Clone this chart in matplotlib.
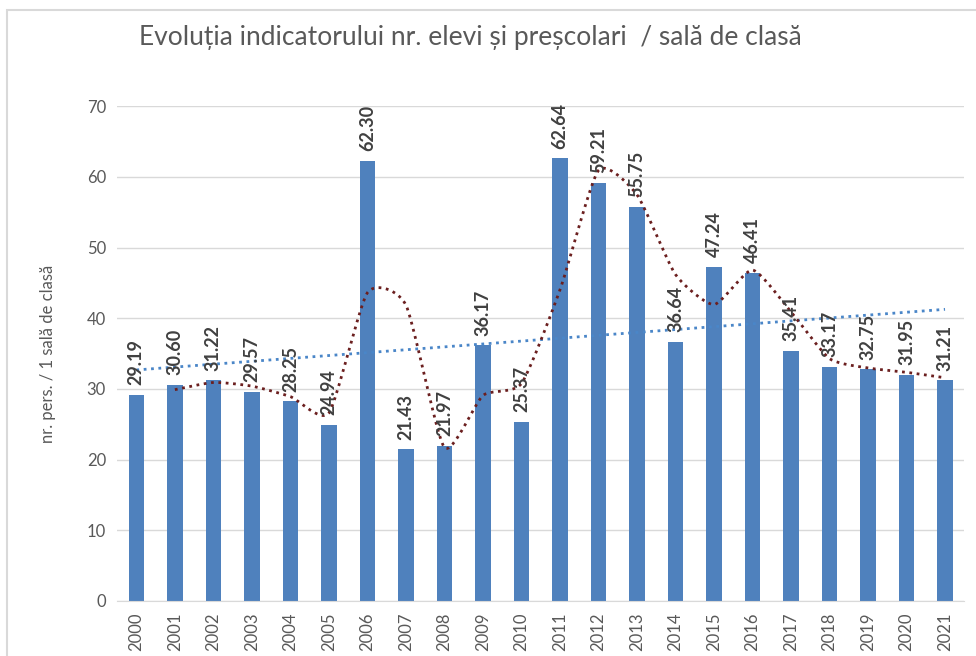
import numpy as np
import matplotlib.pyplot as plt
from matplotlib.patches import Rectangle

# date
ani = [str(a) for a in range(2000, 2022)]
valori = [29.19, 30.60, 31.22, 29.57, 28.25, 24.94, 62.30, 21.43, 21.97, 36.17, 25.37,
          62.64, 59.21, 55.75, 36.64, 47.24, 46.41, 35.41, 33.17, 32.75, 31.95, 31.21]

plt.rcParams['font.family'] = ['Lato', 'DejaVu Sans']

x = np.arange(len(ani))
y = np.array(valori)

fig = plt.figure(figsize=(9.76, 6.56), dpi=100)
ax = fig.add_axes([0.120, 0.084, 0.868, 0.754])

ax.bar(x, y, width=0.4, color='#4f81bd', zorder=2)

# etichete valori
for xi, v in zip(x, y):
    ax.annotate(f"{v:.2f}", (xi, v), xytext=(0, 7), textcoords='offset points',
                rotation=90, ha='center', va='bottom', fontsize=13,
                fontweight='bold', color='#404040', zorder=4)

# linie de tendinta liniara
a, b = np.polyfit(x, y, 1)
ax.plot(x, a * x + b, ls=':', lw=2, color='#4a86c8', zorder=3)

# medie mobila 2 perioade (netezita)
mm = (y[1:] + y[:-1]) / 2
xm = x[1:]
px, py = [], []
P = np.column_stack([xm, mm])
P = np.vstack([P[0], P, P[-1]])
k = 0.3  # tensiune
for i in range(1, len(P) - 2):
    p0, p1, p2, p3 = P[i - 1], P[i], P[i + 1], P[i + 2]
    m1 = k * (p2 - p0)
    m2 = k * (p3 - p1)
    for t in np.linspace(0, 1, 20, endpoint=False):
        h00 = 2 * t**3 - 3 * t**2 + 1
        h10 = t**3 - 2 * t**2 + t
        h01 = -2 * t**3 + 3 * t**2
        h11 = t**3 - t**2
        c = h00 * p1 + h10 * m1 + h01 * p2 + h11 * m2
        px.append(c[0]); py.append(c[1])
px.append(P[-2][0]); py.append(P[-2][1])
ax.plot(px, py, ls=':', lw=2, color='#6b1f1f', zorder=3)

ax.set_xlim(-0.5, len(ani) - 0.5)
ax.set_ylim(0, 70)
ax.set_yticks(range(0, 71, 10))
ax.set_xticks(x)
ax.set_xticklabels(ani, rotation=90)
ax.tick_params(axis='both', length=0, labelsize=12, labelcolor='#595959', pad=8)
ax.grid(axis='y', color='#d9d9d9', lw=1, zorder=0)
for s in ['top', 'right', 'left']:
    ax.spines[s].set_visible(False)
ax.spines['bottom'].set_color('#d9d9d9')

ax.set_ylabel("nr. pers. / 1 sală de clasă", fontsize=12, color='#595959', labelpad=22)

fig.text(0.482, 0.943, "Evoluția indicatorului nr. elevi și preșcolari  / sală de clasă",
         ha='center', va='center', fontsize=19, color='#595959')

fig.patches.append(Rectangle((7 / 976, -0.01), 1.0, (656 - 10) / 656 + 0.01,
                             transform=fig.transFigure, fill=False,
                             edgecolor='#d9d9d9', lw=1.5))

plt.savefig('out.png', dpi=100)
